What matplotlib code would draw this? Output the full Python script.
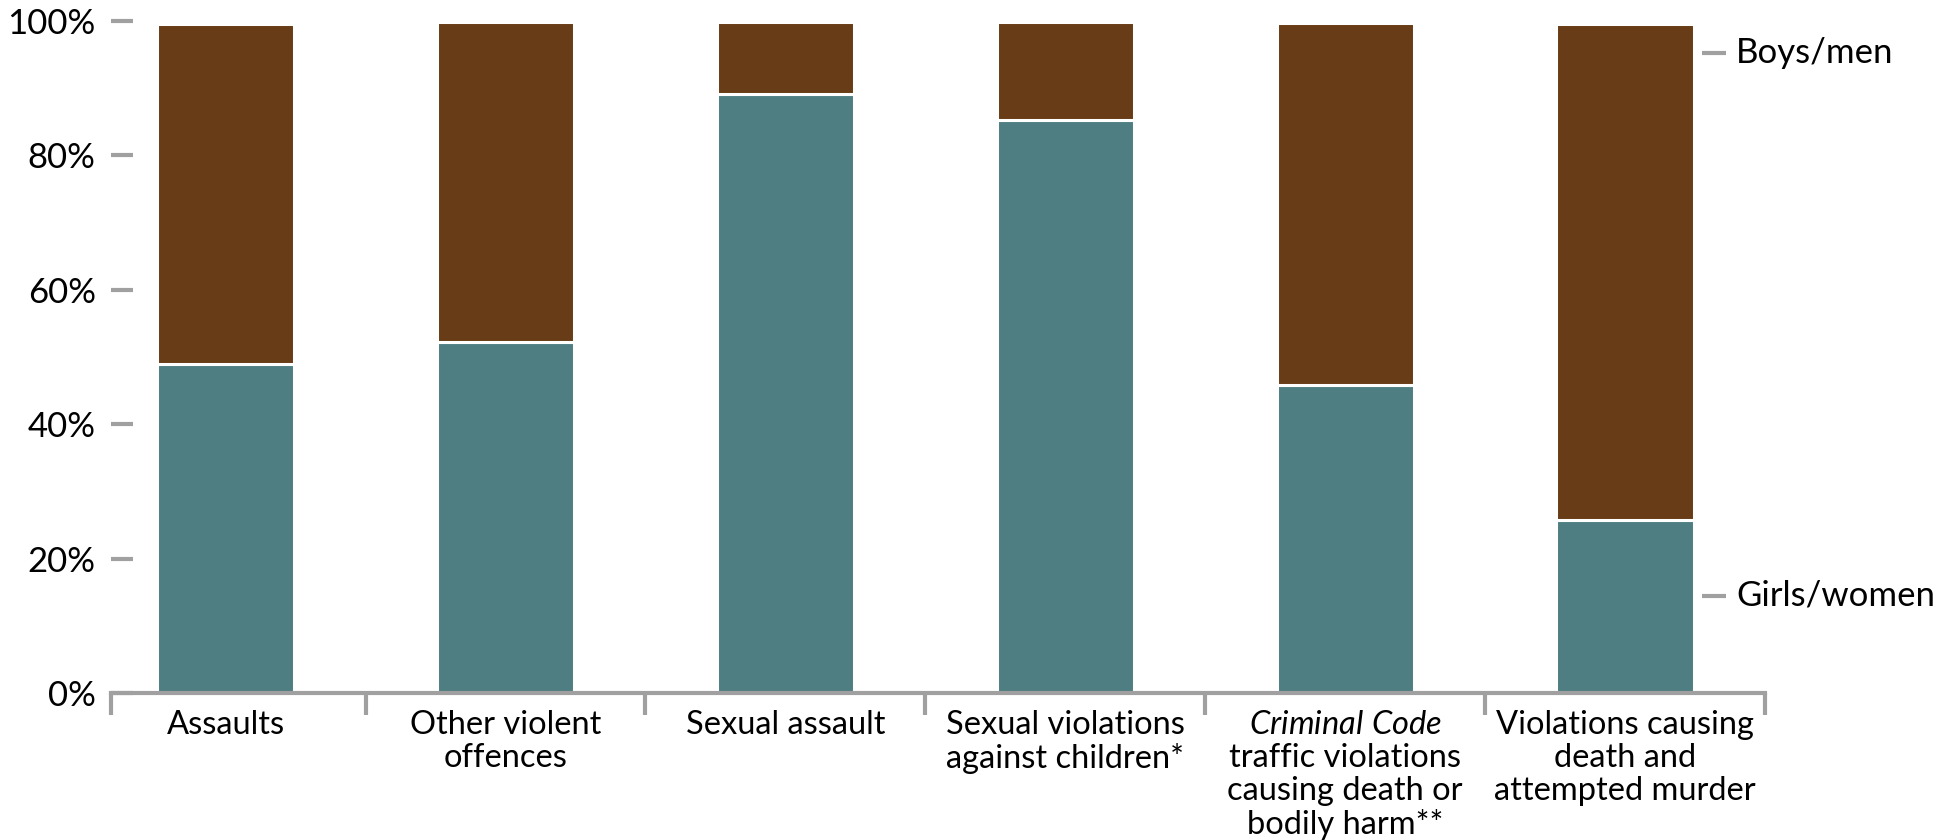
import numpy as np
import matplotlib
matplotlib.use("Agg")
import matplotlib.pyplot as plt

# Share of accused persons by gender, per offence type (percent)
categories = [
    "Assaults",
    "Other violent\noffences",
    "Sexual assault",
    "Sexual violations\nagainst children*",
    r"$\mathit{Criminal\ Code}$" + "\ntraffic violations\ncausing death or\nbodily harm**",
    "Violations causing\ndeath and\nattempted murder",
]
girls_women = [48.9, 52.3, 89.1, 85.2, 45.8, 25.7]
boys_men = [50.6, 47.5, 10.7, 14.6, 53.9, 73.9]
y_ticks = [0, 20, 40, 60, 80, 100]
y_tick_labels = ["0%", "20%", "40%", "60%", "80%", "100%"]

teal = "#4E7E82"
brown = "#673C16"
grey = "#A0A0A0"

plt.rcParams["font.family"] = ["Lato", "DejaVu Sans"]
plt.rcParams["mathtext.fontset"] = "custom"
plt.rcParams["mathtext.rm"] = "Lato"
plt.rcParams["mathtext.it"] = "Lato:italic"

fig = plt.figure(figsize=(19.5, 8.4), dpi=100)
ax = fig.add_axes([0.0569, 0.175, 0.8482, 0.8])

x = np.arange(len(categories))
ax.bar(x, girls_women, width=0.49, color=teal, edgecolor="white", linewidth=2.2)
ax.bar(x, boys_men, width=0.49, bottom=girls_women, color=brown,
       edgecolor="white", linewidth=2.2)

ax.set_xlim(-0.41, 5.5)
ax.set_ylim(0, 100)

# y axis: short inward grey dashes, no spine
for s in ["left", "right", "top"]:
    ax.spines[s].set_visible(False)
ax.spines["bottom"].set_color(grey)
ax.spines["bottom"].set_linewidth(3)

ax.set_yticks(y_ticks)
ax.set_yticklabels(y_tick_labels, fontsize=25)
ax.tick_params(axis="y", direction="in", length=16, width=3, color=grey, pad=11)

ax.set_xticks(x)
ax.set_xticklabels(categories, fontsize=23.5, linespacing=1.13, va="top")
ax.tick_params(axis="x", which="major", length=0, pad=12)
ax.set_xticks([-0.41, 0.5, 1.5, 2.5, 3.5, 4.5, 5.5], minor=True)
ax.tick_params(axis="x", which="minor", direction="out", length=16, width=3, color=grey)

# series labels next to the last bar
for label, ypos in [("Boys/men", 95.2), ("Girls/women", 14.5)]:
    ax.plot([5.275, 5.36], [ypos, ypos], color=grey, lw=3, clip_on=False,
            solid_capstyle="butt")
    ax.text(5.397, ypos, label, fontsize=25, va="center", ha="left")

fig.savefig("out.png", dpi=100)
